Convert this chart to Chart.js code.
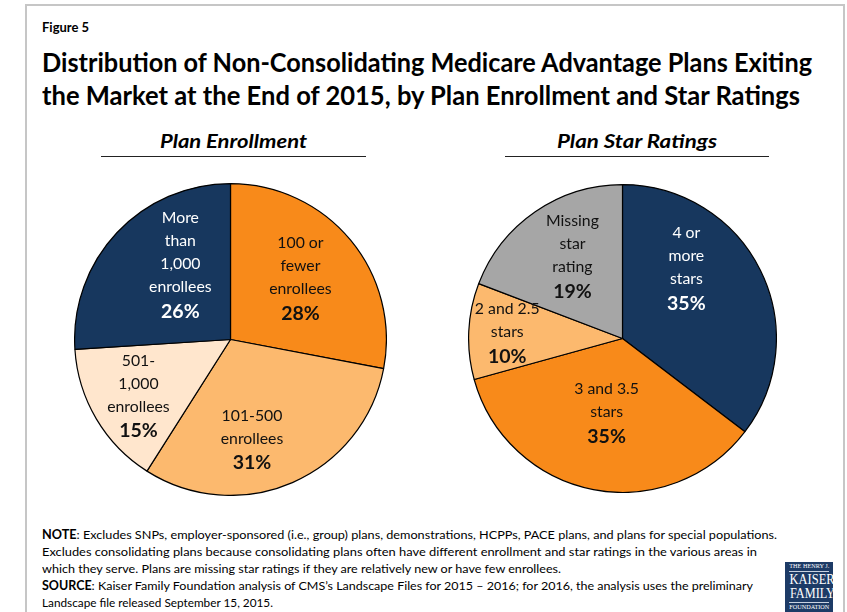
<!DOCTYPE html>
<html>
<head>
<meta charset="utf-8">
<script src="https://cdn.jsdelivr.net/npm/chart.js@4.4.0/dist/chart.umd.min.js"></script>
<style>
  html, body { margin: 0; padding: 0; background: #fff; }
  body { width: 847px; height: 612px; position: relative; overflow: hidden;
         font-family: Lato, "Open Sans", sans-serif; color: #000; }
  .frame { position: absolute; left: 25px; top: 4px; width: 816px; height: 700px;
           border: 2px solid #c6c6c6; border-bottom: none; }
  .t { position: absolute; white-space: nowrap; transform-origin: 0 0; }
  .fig { left: 42px; top: 19px; font-size: 13px; font-weight: 700; line-height: 16px; }
  .title { left: 42px; font-size: 26px; font-weight: 700; line-height: 32px; }
  .sub { font-size: 19.5px; font-weight: 700; font-style: italic; line-height: 24px; }
  .rule { position: absolute; height: 0; border-top: 1.5px solid #222; }
  .note { left: 42px; font-size: 12.3px; line-height: 17px; }
  canvas.pie { position: absolute; }
  .logo { position: absolute; left: 785px; top: 562px; width: 48px; height: 52px;
          background: #1d3b66; color: #fff; font-family: "Liberation Serif", "DejaVu Serif", serif;
          overflow: hidden; }
  .logo .row { position: absolute; left: 0; width: 48px; text-align: center; white-space: nowrap; }
  .logo .row span { display: inline-block; transform-origin: 50% 50%; }
  .logo .bar { position: absolute; left: 4px; width: 40px; border-top: 1px solid #c9d2e0; }
</style>
</head>
<body>
<div class="frame"></div>

<div class="t fig">Figure 5</div>
<div class="t title" id="title1" style="top:46px">Distribution of Non-Consolidating Medicare Advantage Plans Exiting</div>
<div class="t title" id="title2" style="top:79px">the Market at the End of 2015, by Plan Enrollment and Star Ratings</div>

<div class="t sub" id="sub1" style="top:129px">Plan Enrollment</div>
<div class="rule" style="left:101px; width:265px; top:156px"></div>
<div class="t sub" id="sub2" style="top:129px">Plan Star Ratings</div>
<div class="rule" style="left:505px; width:264px; top:156px"></div>

<canvas class="pie" id="enrollPie" width="313" height="313" style="left:74px; top:183px"></canvas>
<canvas class="pie" id="starPie" width="309" height="309" style="left:468px; top:184px"></canvas>

<div class="t note" id="n1" style="top:526px"><b>NOTE</b>: Excludes SNPs, employer-sponsored (i.e., group) plans, demonstrations, HCPPs, PACE plans, and plans for special populations.</div>
<div class="t note" id="n2" style="top:543px">Excludes consolidating plans because consolidating plans often have different enrollment and star ratings in the various areas in</div>
<div class="t note" id="n3" style="top:560px">which they serve. Plans are missing star ratings if they are relatively new or have few enrollees.</div>
<div class="t note" id="n4" style="top:577px"><b>SOURCE</b>: Kaiser Family Foundation analysis of CMS’s Landscape Files for 2015 – 2016; for 2016, the analysis uses the preliminary</div>
<div class="t note" id="n5" style="top:594px">Landscape file released September 15, 2015.</div>

<div class="logo">
  <div class="row" style="top:1px; font-size:6px; line-height:7px"><span id="lh">THE HENRY J.</span></div>
  <div class="bar" style="top:9px"></div>
  <div class="row" style="top:10px; font-size:15px; line-height:15px"><span id="lk">KAISER</span></div>
  <div class="row" style="top:24px; font-size:15px; line-height:15px"><span id="lf">FAMILY</span></div>
  <div class="bar" style="top:40px"></div>
  <div class="row" style="top:42px; font-size:6px; line-height:7px"><span id="lo">FOUNDATION</span></div>
</div>

<script>
// ---- data ----
const enrollLabels = ['100 or\nfewer\nenrollees', '101-500\nenrollees', '501-\n1,000\nenrollees', 'More\nthan\n1,000\nenrollees'];
const enrollValues = [28, 31, 15, 26];
const enrollColors = ['#F88A1A', '#FCB96E', '#FFE6CD', '#17375E'];

const starLabels = ['4 or\nmore\nstars', '3 and 3.5\nstars', '2 and 2.5\nstars', 'Missing\nstar\nrating'];
const starValues = [35, 35, 10, 19];
const starColors = ['#17375E', '#F88A1A', '#FCB96E', '#A6A6A6'];

// where each label block sits inside its slice:
// "along" = fraction of the slice's sweep, "radial" = fraction of the radius
const enrollAlong  = [0.48, 0.60, 0.49, 0.64];
const enrollRadial = [0.60, 0.65, 0.69, 0.58];
const starAlong    = [0.33, 0.51, 0.51, 0.55];
const starRadial   = [0.62, 0.49, 0.75, 0.63];

// ---- horizontal fitting for text rows ----
function fitWidth(id, w) {
  const el = document.getElementById(id);
  const nat = el.getBoundingClientRect().width;
  el.style.transform = 'scaleX(' + (w / nat) + ')';
}
function centerAt(id, cx) {
  const el = document.getElementById(id);
  const w = el.getBoundingClientRect().width;
  el.style.left = (cx - w / 2) + 'px';
}

// ---- labels drawn inside slices ----
const sliceLabels = {
  id: 'sliceLabels',
  afterDatasetsDraw(chart, args, opts) {
    const ctx = chart.ctx;
    const meta = chart.getDatasetMeta(0);
    const values = chart.data.datasets[0].data;
    meta.data.forEach((arc, i) => {
      const p = arc.getProps(['x', 'y', 'startAngle', 'endAngle', 'outerRadius'], true);
      const a = p.startAngle + (p.endAngle - p.startAngle) * opts.along[i];
      const r = p.outerRadius * opts.radial[i];
      const cx = p.x + Math.cos(a) * r;
      const cy = p.y + Math.sin(a) * r;
      const lines = chart.data.labels[i].split('\n');
      lines.push(values[i] + '%');
      const n = lines.length;
      const step = 23;
      ctx.save();
      ctx.textAlign = 'center';
      ctx.textBaseline = 'middle';
      ctx.fillStyle = opts.textColors[i];
      lines.forEach((ln, k) => {
        const last = k === n - 1;
        ctx.font = last ? '700 19.5px Lato, sans-serif' : '400 15.8px Lato, sans-serif';
        const yy = cy + (k - (n - 1) / 2) * step + (last ? 1.5 : 0);
        ctx.fillText(ln, cx, yy);
      });
      ctx.restore();
    });
  }
};

function makePie(id, labels, values, colors, along, radial, textColors) {
  return new Chart(document.getElementById(id), {
    type: 'pie',
    data: {
      labels: labels,
      datasets: [{
        data: values,
        backgroundColor: colors,
        borderColor: '#000',
        borderWidth: 1.2
      }]
    },
    options: {
      responsive: false,
      animation: false,
      layout: { padding: 0 },
      plugins: {
        legend: { display: false },
        tooltip: { enabled: false },
        sliceLabels: { along: along, radial: radial, textColors: textColors }
      }
    },
    plugins: [sliceLabels]
  });
}

makePie('enrollPie', enrollLabels, enrollValues, enrollColors, enrollAlong, enrollRadial,
        ['#111', '#111', '#111', '#fff']);
makePie('starPie', starLabels, starValues, starColors, starAlong, starRadial,
        ['#fff', '#111', '#111', '#111']);

document.fonts.ready.then(() => {
  fitWidth('title1', 770);
  fitWidth('title2', 758);
  fitWidth('sub1', 147);
  fitWidth('sub2', 160);
  centerAt('sub1', 233.5);
  centerAt('sub2', 637);
  fitWidth('n1', 735);
  fitWidth('n2', 715);
  fitWidth('n3', 519);
  fitWidth('n4', 711);
  fitWidth('n5', 231);
  fitWidth('lh', 40);
  fitWidth('lk', 45);
  fitWidth('lf', 45);
  fitWidth('lo', 40);
});
</script>
</body>
</html>
